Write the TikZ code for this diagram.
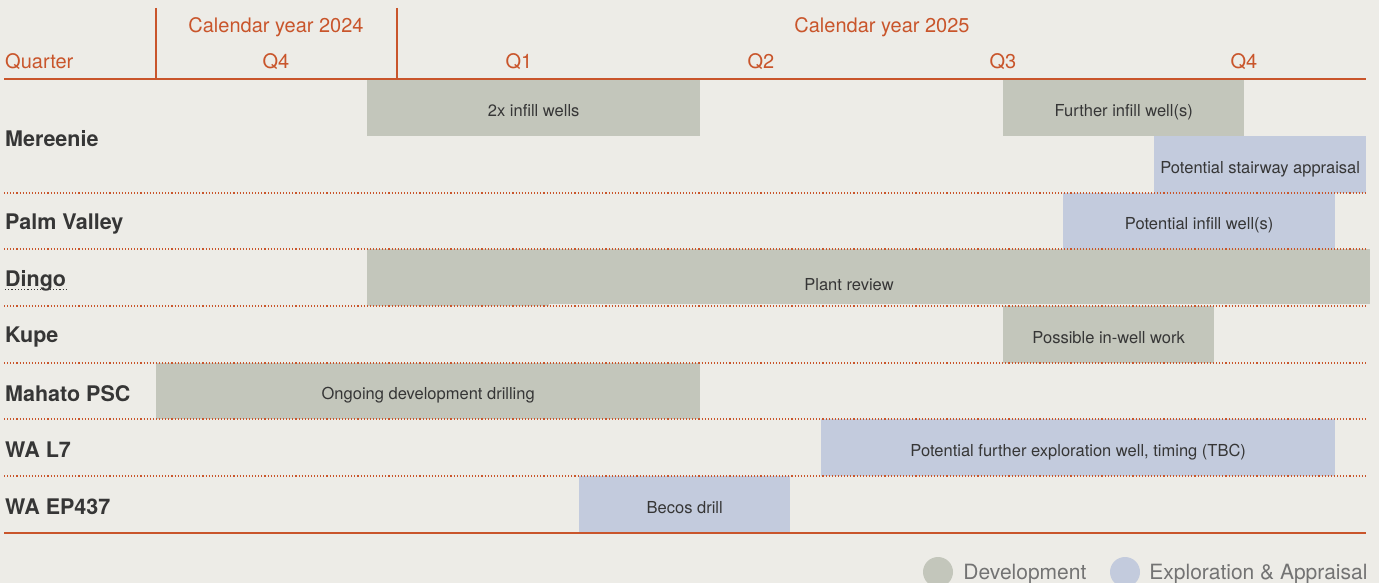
\documentclass[tikz,border=0pt]{standalone}
\usepackage{fontspec}
\setmainfont{TeX Gyre Heros}
\usetikzlibrary{positioning}
\definecolor{bgc}{HTML}{EDECE7}
\definecolor{rust}{HTML}{C9552B}
\definecolor{devc}{HTML}{C3C6BB}
\definecolor{expc}{HTML}{C3CBDD}
\definecolor{ink}{HTML}{363636}
\tikzset{
  hdr/.style={text=rust,font=\fontsize{20}{23}\selectfont,inner sep=0pt},
  rowlbl/.style={anchor=west,text=ink,font=\fontsize{21.5}{25}\selectfont\bfseries,inner sep=0pt},
  bar/.style={anchor=north west,inner sep=0pt,text=ink,text height=19pt,text depth=2pt,font=\fontsize{16.5}{19}\selectfont},
  dev/.style={bar,fill=devc},
  expl/.style={bar,fill=expc},
  sep/.style={rust,dotted,line width=1.1pt},
  legd/.style={circle,minimum size=30pt,inner sep=0pt},
  legtxt/.style={anchor=west,text=black!55,font=\fontsize{21}{25}\selectfont,inner sep=0pt,yshift=-2pt}
}

\begin{document}
\begin{tikzpicture}[x=1pt,y=-1pt]
\fill[bgc] (0,0) rectangle (1379,583);
\useasboundingbox (0,0) rectangle (1379,583);
\clip (0,0) rectangle (1379,583);
% header
\node[hdr,anchor=west] (qtr) at (5,62) {Quarter};
\node[hdr] (cy24) at (276,27) {Calendar year 2024};
\node[hdr] (cy25) at (882,27) {Calendar year 2025};
\node[hdr] (q0) at (276,62) {Q4};
\foreach \i/\x in {1/519,2/761,3/1003,4/1244}{\node[hdr] (q\i) at (\x,62) {Q\i};}
\draw[rust,line width=1.2pt] (156,8) -- (156,78) (397,8) -- (397,78);
% bars
\node[dev,minimum width=333pt,minimum height=56pt] (mer1) at (367,80) {2x infill wells};
\node[dev,minimum width=241pt,minimum height=56pt] (mer2) at (1003,80) {Further infill well(s)};
\node[expl,minimum width=212pt,minimum height=57pt] (mer3) at (1154,136) {Potential stairway appraisal};
\node[expl,minimum width=272pt,minimum height=56pt] (pv1) at (1063,193) {Potential infill well(s)};
\node[dev,minimum width=182pt,minimum height=57pt] (din1) at (367,249) {};
\node[dev,minimum width=821pt,minimum height=55pt] (din2) at (549,249) {};
\node[bar,anchor=center] (din3) at (849,282) {Plant review};
\node[dev,minimum width=211pt,minimum height=57pt] (kup1) at (1003,306) {Possible in-well work};
\node[dev,minimum width=544pt,minimum height=56pt] (mah1) at (156,363) {Ongoing development drilling};
\node[expl,minimum width=514pt,minimum height=57pt] (wal1) at (821,419) {Potential further exploration well, timing (TBC)};
\node[expl,minimum width=211pt,minimum height=57pt] (wae1) at (579,476) {Becos drill};
% grid
\draw[rust,line width=2.5pt] (4,79) -- (1366,79);
\foreach \y in {193,249,306,363,419,476}{\draw[sep] (4,\y) -- (1366,\y);}
\draw[rust,line width=1.2pt] (4,533) -- (1366,533);
% rows
\node[rowlbl] (mereenie) at (5,139) {Mereenie};
\node[rowlbl] (palm) at (5,224) {Palm Valley};
\node[rowlbl] (dingo) at (5,281) {Dingo};
\node[rowlbl] (kupe) at (5,337) {Kupe};
\node[rowlbl] (mahato) at (5,394) {Mahato PSC};
\node[rowlbl] (wal7) at (5,450) {WA L7};
\node[rowlbl] (waep) at (5,507) {WA EP437};
\draw[ink,dotted,line width=1.2pt] ([yshift=-3pt]dingo.base west) -- ([yshift=-3pt]dingo.base east);
% legend
\node[legd,fill=devc] (ldev) at (938,572) {};
\node[legtxt,right=10pt of ldev] (tdev) {Development};
\node[legd,fill=expc] (lexp) at (1125,572) {};
\node[legtxt,right=9pt of lexp] (texp) {Exploration \& Appraisal};
\end{tikzpicture}
\end{document}
